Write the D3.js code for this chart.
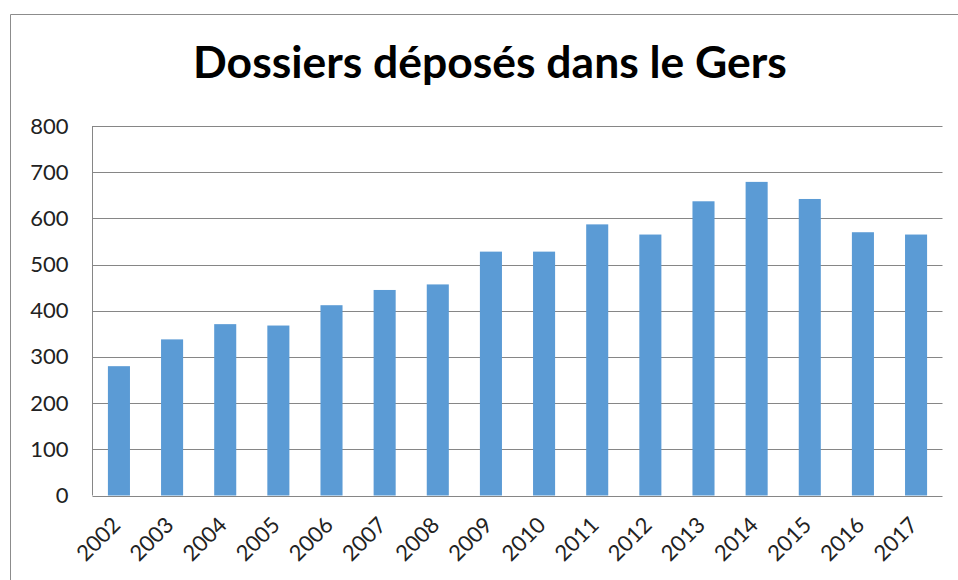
<!DOCTYPE html>
<html>
<head>
<meta charset="utf-8">
<script src="https://cdn.jsdelivr.net/npm/d3@7"></script>
<style>
  body { margin: 0; background: #fff; }
  svg { display: block; }
</style>
</head>
<body>
<svg id="chart" width="958" height="580"></svg>
<script>
const years = ['2002', '2003', '2004', '2005', '2006', '2007', '2008', '2009',
  '2010', '2011', '2012', '2013', '2014', '2015', '2016', '2017'];
const dossiers = [280, 338, 371, 368, 412, 445, 457, 528,
  528, 587, 565, 637, 679, 642, 570, 565];
const yTicks = [0, 100, 200, 300, 400, 500, 600, 700, 800];
const title = 'Dossiers déposés dans le Gers';

const width = 958;
const height = 580;
const margin = { top: 126, right: 15.5, bottom: 84.5, left: 92.5 };
const fontFamily = 'Lato, "Open Sans", sans-serif';

const svg = d3.select('#chart');

// outer chart frame
svg.append('path')
  .attr('d', `M10.5,${height} V14.5 H${width}`)
  .attr('fill', 'none')
  .attr('stroke', '#8c8c8c')
  .attr('stroke-width', 1);

const x = d3.scaleBand()
  .domain(years)
  .range([margin.left, width - margin.right])
  .paddingInner(0.585)
  .paddingOuter(0.29);

const y = d3.scaleLinear()
  .domain([0, 800])
  .range([height - margin.bottom, margin.top]);

// gridlines
svg.append('g')
  .selectAll('line')
  .data(yTicks)
  .join('line')
  .attr('x1', margin.left)
  .attr('x2', width - margin.right)
  .attr('y1', (d) => Math.round(y(d)) + 0.5)
  .attr('y2', (d) => Math.round(y(d)) + 0.5)
  .attr('stroke', '#868686')
  .attr('stroke-width', 1);

// left axis line
svg.append('line')
  .attr('x1', margin.left)
  .attr('x2', margin.left)
  .attr('y1', y(800))
  .attr('y2', y(0))
  .attr('stroke', '#868686');

// bars
svg.append('g')
  .selectAll('rect')
  .data(years)
  .join('rect')
  .attr('x', (d) => x(d))
  .attr('width', x.bandwidth())
  .attr('y', (d, i) => y(dossiers[i]))
  .attr('height', (d, i) => y(0) - y(dossiers[i]))
  .attr('fill', '#5b9bd5');

// y axis
const yAxis = svg.append('g')
  .attr('transform', `translate(${margin.left},0)`)
  .call(d3.axisLeft(y).tickValues(yTicks).tickSize(0).tickPadding(24));
yAxis.select('.domain').remove();
yAxis.selectAll('text')
  .attr('font-family', fontFamily)
  .attr('font-size', 22)
  .attr('fill', '#222');

// x axis
const xAxis = svg.append('g')
  .attr('transform', `translate(0,${y(0)})`)
  .call(d3.axisBottom(x).tickSize(0));
xAxis.select('.domain').remove();
xAxis.selectAll('text')
  .attr('font-family', fontFamily)
  .attr('font-size', 22)
  .attr('fill', '#222')
  .attr('text-anchor', 'end')
  .attr('dy', null)
  .attr('y', 0)
  .attr('transform', 'translate(-1,27) rotate(-45)')
  .attr('dominant-baseline', 'middle');

// title
const titleText = svg.append('text')
  .attr('x', 490)
  .attr('y', 78)
  .attr('text-anchor', 'middle')
  .attr('font-family', fontFamily)
  .attr('font-weight', 'bold')
  .attr('font-size', 40)
  .attr('fill', '#000')
  .text(title);

// fit title to the reference width
const tw = titleText.node().getComputedTextLength();
titleText.attr('font-size', 40 * 594 / tw);
</script>
</body>
</html>
